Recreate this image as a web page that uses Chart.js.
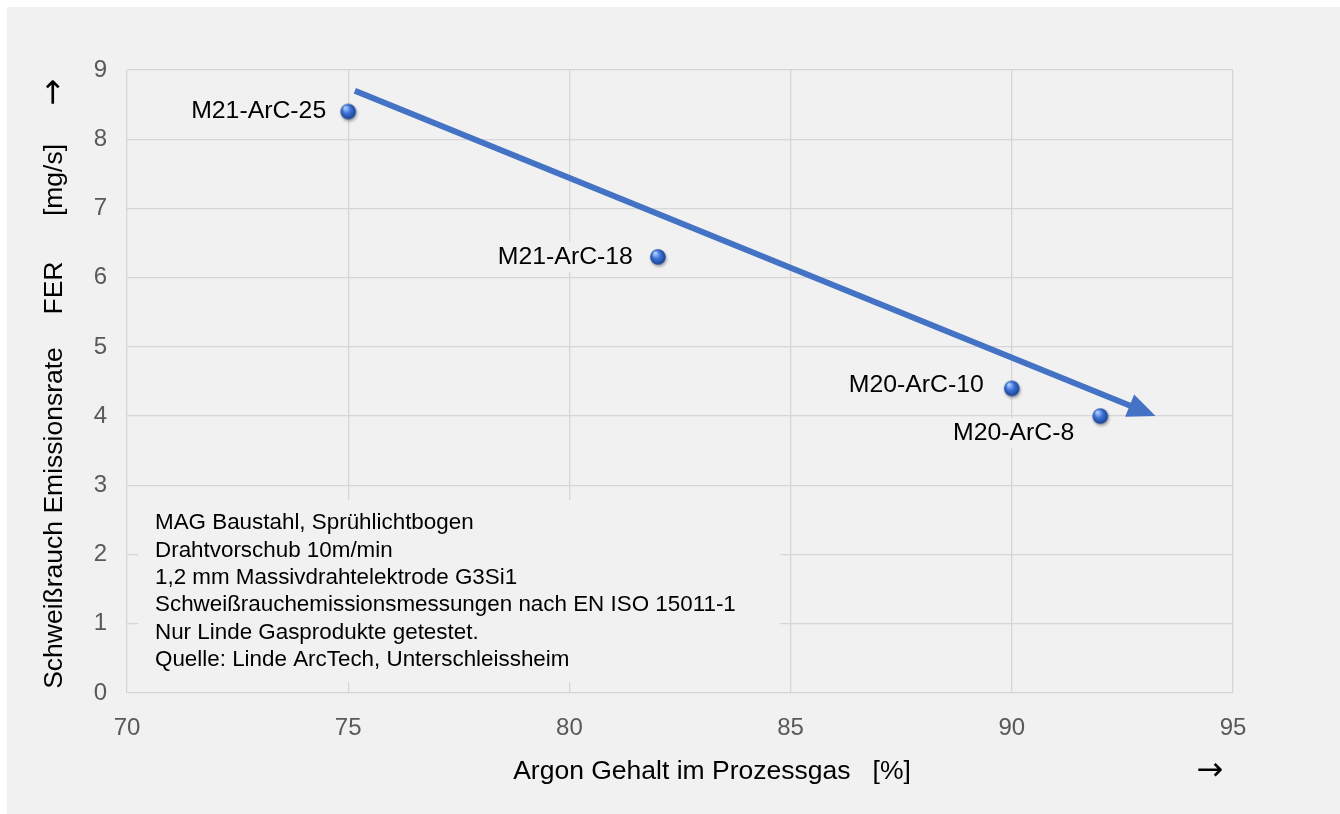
<!DOCTYPE html>
<html>
<head>
<meta charset="utf-8">
<script src="https://cdn.jsdelivr.net/npm/chart.js@4/dist/chart.umd.min.js"></script>
<style>
    body { margin: 0; background: #fff; }
</style>
</head>
<body>
<canvas id="ferChart" width="1340" height="814"></canvas>
<script>
// data
const argonContent = [75, 82, 90, 92];
const ferValues = [8.4, 6.3, 4.4, 4.0];
const gasNames = ['M21-ArC-25', 'M21-ArC-18', 'M20-ArC-10', 'M20-ArC-8'];
const trendArgon = [75.15, 93.25];
const trendFer = [8.7, 4.0];
const noteLines = [
    'MAG Baustahl, Sprühlichtbogen',
    'Drahtvorschub 10m/min',
    '1,2 mm Massivdrahtelektrode G3Si1',
    'Schweißrauchemissionsmessungen nach EN ISO 15011-1',
    'Nur Linde Gasprodukte getestet.',
    'Quelle: Linde ArcTech, Unterschleissheim'
];

const fontFamily = '"Liberation Sans", Arial, sans-serif';
const arrowFont = '"DejaVu Sans", sans-serif';
const bgGrey = '#f1f1f1';
const arrowBlue = '#4472c4';

// label position relative to its point: [dx, dy]
const labelOffsets = [[-22, 0], [-25, 0], [-28, -3], [-26, 17]];

function makeSphere() {
    const c = document.createElement('canvas');
    c.width = 26;
    c.height = 26;
    const g = c.getContext('2d');
    g.shadowColor = 'rgba(0, 0, 0, 0.35)';
    g.shadowBlur = 3;
    g.shadowOffsetX = 1;
    g.shadowOffsetY = 2;
    const grad = g.createRadialGradient(10, 9, 1, 13, 13, 8);
    grad.addColorStop(0, '#a9c9ff');
    grad.addColorStop(0.45, '#3d74d8');
    grad.addColorStop(1, '#17408f');
    g.fillStyle = grad;
    g.beginPath();
    g.arc(13, 13, 7.8, 0, Math.PI * 2);
    g.fill();
    return c;
}

const backgroundPlugin = {
    id: 'background',
    beforeDraw(chart) {
        const ctx = chart.ctx;
        ctx.save();
        ctx.fillStyle = bgGrey;
        ctx.fillRect(7, 7, chart.width - 7, chart.height - 7);
        ctx.restore();
    }
};

const annotationPlugin = {
    id: 'annotations',
    beforeDatasetsDraw(chart) {
        const ctx = chart.ctx;
        const xs = chart.scales.x;
        const ys = chart.scales.y;
        ctx.save();

        // note box
        ctx.fillStyle = bgGrey;
        ctx.fillRect(138, 500, 642, 182);
        ctx.fillStyle = '#000';
        ctx.font = '22.4px ' + fontFamily;
        ctx.textAlign = 'left';
        ctx.textBaseline = 'middle';
        noteLines.forEach((line, i) => {
            ctx.fillText(line, 155, 523 + i * 27.4);
        });

        // point labels
        const meta = chart.getDatasetMeta(0);
        ctx.font = '24.8px ' + fontFamily;
        ctx.textAlign = 'right';
        meta.data.forEach((pt, i) => {
            const tx = pt.x + labelOffsets[i][0];
            const ty = pt.y + labelOffsets[i][1];
            const w = ctx.measureText(gasNames[i]).width;
            ctx.fillStyle = bgGrey;
            ctx.fillRect(tx - w - 6, ty - 15, w + 12, 30);
            ctx.fillStyle = '#000';
            ctx.fillText(gasNames[i], tx, ty);
        });

        // trend arrow
        const x0 = xs.getPixelForValue(trendArgon[0]);
        const y0 = ys.getPixelForValue(trendFer[0]);
        const x1 = xs.getPixelForValue(trendArgon[1]);
        const y1 = ys.getPixelForValue(trendFer[1]);
        const ang = Math.atan2(y1 - y0, x1 - x0);
        const headLen = 28;
        const headHalf = 12;
        const bx = x1 - headLen * Math.cos(ang);
        const by = y1 - headLen * Math.sin(ang);
        ctx.strokeStyle = arrowBlue;
        ctx.lineWidth = 6;
        ctx.lineCap = 'butt';
        ctx.beginPath();
        ctx.moveTo(x0, y0);
        ctx.lineTo(bx + 2 * Math.cos(ang), by + 2 * Math.sin(ang));
        ctx.stroke();
        ctx.fillStyle = arrowBlue;
        ctx.beginPath();
        ctx.moveTo(x1, y1);
        ctx.lineTo(bx - headHalf * Math.sin(ang), by + headHalf * Math.cos(ang));
        ctx.lineTo(bx + headHalf * Math.sin(ang), by - headHalf * Math.cos(ang));
        ctx.closePath();
        ctx.fill();

        ctx.restore();
    },
    afterDraw(chart) {
        const ctx = chart.ctx;
        ctx.save();
        ctx.fillStyle = '#000';
        ctx.textBaseline = 'middle';
        ctx.textAlign = 'center';

        // x axis title
        ctx.font = '26.5px ' + fontFamily;
        ctx.fillText('Argon Gehalt im Prozessgas   [%]', 712, 772);
        ctx.font = '32px ' + arrowFont;
        ctx.fillText('→', 1210, 772);

        // y axis title, rotated
        ctx.translate(55, 0);
        ctx.rotate(-Math.PI / 2);
        ctx.font = '26.5px ' + fontFamily;
        ctx.fillText('Schweißrauch Emissionsrate', -518, 0);
        ctx.fillText('FER', -288, 0);
        ctx.fillText('[mg/s]', -180, 0);
        ctx.font = '32px ' + arrowFont;
        ctx.fillText('→', -92, 0);
        ctx.restore();
    }
};

function createChart() {
    const target = document.getElementById('ferChart').getContext('2d');

    const points = argonContent.map((x, i) => ({ x: x, y: ferValues[i] }));

    new Chart(target, {
        type: 'scatter',
        data: {
            datasets: [
                {
                    label: 'FER',
                    data: points,
                    pointStyle: makeSphere(),
                    pointRadius: 8
                }
            ]
        },
        options: {
            responsive: false,
            animation: false,
            events: [],
            layout: {
                padding: { left: 0, top: 70, right: 107, bottom: 0 }
            },
            plugins: {
                legend: { display: false },
                tooltip: { enabled: false }
            },
            scales: {
                x: {
                    type: 'linear',
                    min: 70,
                    max: 95,
                    afterFit: scale => { scale.height = 121; },
                    border: { display: false },
                    grid: { color: '#d6d6d6', lineWidth: 1.3, drawTicks: false },
                    ticks: {
                        stepSize: 5,
                        padding: 21,
                        color: '#595959',
                        font: { family: fontFamily, size: 24 }
                    }
                },
                y: {
                    type: 'linear',
                    min: 0,
                    max: 9,
                    afterFit: scale => { scale.width = 127; },
                    border: { display: false },
                    grid: { color: '#d6d6d6', lineWidth: 1.3, drawTicks: false },
                    ticks: {
                        stepSize: 1,
                        padding: 20,
                        color: '#595959',
                        font: { family: fontFamily, size: 24 }
                    }
                }
            }
        },
        plugins: [backgroundPlugin, annotationPlugin]
    });
}

createChart();
</script>
</body>
</html>
